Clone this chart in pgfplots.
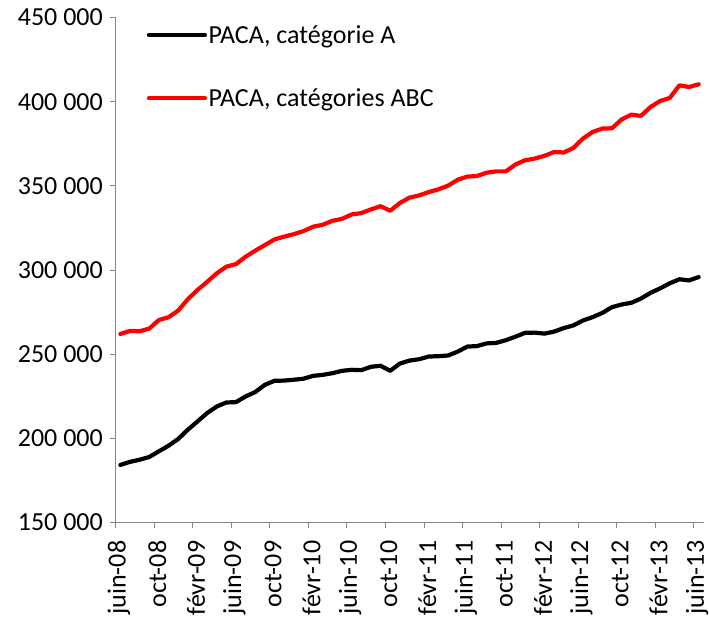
\documentclass[border=0pt]{standalone}
\usepackage{pgfplots}
\pgfplotsset{compat=1.18}
\usepackage{pgfplotstable}
\usepackage{fontspec}
\setmainfont{Carlito}
\definecolor{axisgray}{HTML}{868686}
\pgfplotstableread{
i a abc
0 184.2 262.0
1 186.0 263.8
2 187.3 263.6
3 188.9 265.2
4 192.3 270.3
5 195.6 271.9
6 199.6 275.9
7 205.1 282.6
8 210.0 288.1
9 215.0 292.9
10 218.9 298.0
11 221.3 302.0
12 221.5 303.5
13 224.9 307.9
14 227.5 311.5
15 231.8 314.8
16 234.2 318.2
17 234.3 319.8
18 234.8 321.3
19 235.4 323.1
20 237.1 325.7
21 237.7 326.9
22 238.7 329.2
23 240.1 330.4
24 240.7 333.0
25 240.5 333.8
26 242.5 336.0
27 243.1 337.9
28 240.1 335.2
29 244.4 339.8
30 246.2 343.0
31 247.0 344.3
32 248.6 346.3
33 248.8 347.9
34 249.2 350.1
35 251.5 353.6
36 254.5 355.5
37 254.8 355.8
38 256.4 357.8
39 256.7 358.6
40 258.3 358.6
41 260.4 362.7
42 262.7 365.2
43 262.8 366.2
44 262.2 367.8
45 263.4 370.1
46 265.5 369.8
47 267.1 372.5
48 270.0 378.1
49 272.0 382.0
50 274.5 384.0
51 277.9 384.2
52 279.5 389.4
53 280.5 392.3
54 283.0 391.5
55 286.4 396.8
56 289.1 400.4
57 292.1 402.2
58 294.5 409.7
59 293.8 408.7
60 295.8 410.3
}\datatable
\begin{document}
\begin{tikzpicture}
\begin{axis}[
  scale only axis,
  width=588bp, height=505bp,
  xmin=-0.5, xmax=60.5,
  ymin=150, ymax=450,
  axis lines*=left,
  axis line style={axisgray, line width=0.9bp},
  every tick/.style={axisgray, line width=0.9bp},
  tick align=outside,
  major tick length=5.5bp,
  ytick={150,200,...,450},
  yticklabels={150 000,200 000,250 000,300 000,350 000,400 000,450 000},
  yticklabel style={font=\fontsize{26bp}{31bp}\selectfont, anchor=east, inner sep=0pt, xshift=-7bp},
  xtick={-0.5,3.5,...,59.5},
  xticklabels={},
  extra x ticks={0,4,...,60},
  extra x tick labels={juin-08,oct-08,févr-09,juin-09,oct-09,févr-10,juin-10,oct-10,févr-11,juin-11,oct-11,févr-12,juin-12,oct-12,févr-13,juin-13},
  extra x tick style={major tick length=0pt, xticklabel style={font=\fontsize{26bp}{31bp}\selectfont, yshift=-18bp, xshift=-1.5bp, rotate=90, anchor=east, inner sep=0pt}},
  clip=false,
  legend cell align=left,
  legend image code/.code={\draw[#1, line cap=round] (0bp,0bp) -- (56bp,0bp);},
  legend style={draw=none, fill=none, at={(rel axis cs:0.053,0.988)}, anchor=north west,
    font=\fontsize{26bp}{31bp}\selectfont, inner sep=0pt, row sep=41bp, column sep=0bp,
    nodes={inner sep=1.5bp, anchor=west}},
  /tikz/every even column/.append style={column sep=4bp},
]
\addplot[black, line width=4.2bp, line cap=round, line join=round] table[x=i, y=a] {\datatable};
\addlegendentry{PACA, catégorie A}
\addplot[red, line width=4.2bp, line cap=round, line join=round] table[x=i, y=abc] {\datatable};
\addlegendentry{PACA, catégories ABC}
\end{axis}
\pgfresetboundingbox
\path[use as bounding box] (-115.5bp,-97.5bp) rectangle (593.5bp,522.5bp);
\end{tikzpicture}
\end{document}
